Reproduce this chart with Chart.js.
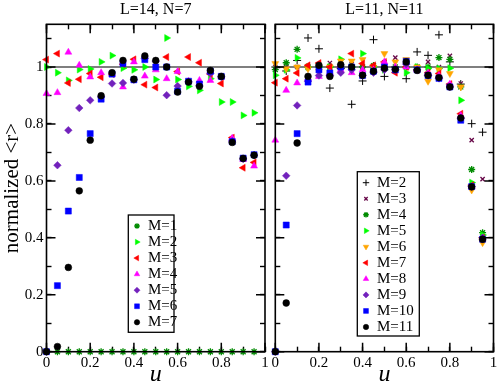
<!DOCTYPE html>
<html>
<head>
<meta charset="utf-8">
<script src="https://cdn.jsdelivr.net/npm/chart.js@4.4.1/dist/chart.umd.min.js"></script>
<style>
  body { margin: 0; background: #fff; }
  canvas { position: absolute; top: 0; }
  #left { left: 0; }
  #right { left: 268px; }
</style>
</head>
<body>
<canvas id="left" width="276" height="387"></canvas>
<canvas id="right" width="230" height="387"></canvas>
<script>
// u values (same grid for both panels)
const uVals = [0, 0.05, 0.1, 0.15, 0.2, 0.25, 0.3, 0.35, 0.4, 0.45,
               0.5, 0.55, 0.6, 0.65, 0.7, 0.75, 0.8, 0.85, 0.9, 0.95];

const majorTicks = [0, 0.2, 0.4, 0.6, 0.8, 1];
const majorLabels = ['0', '0.2', '0.4', '0.6', '0.8', '1'];
const xTickVals = [0, 0.1, 0.2, 0.3, 0.4, 0.5, 0.6, 0.7, 0.8, 0.9, 1];
const yTickVals = [0, 0.1, 0.2, 0.3, 0.4, 0.5, 0.6, 0.7, 0.8, 0.9, 1, 1.1];

const panelTitles = ['L=14, N=7', 'L=11, N=11'];
const xTitle = 'u';
const yTitle = 'normalized <r>';

// left panel : L=14, N=7
const leftM1 = [0, 0, 0, 0, 0, 0, 0, 0, 0, 0, 0, 0, 0, 0, 0, 0, 0, 0, 0, 0];
const leftM2 = [1.0, 0.98, 0.953, 0.991, 0.993, 1.018, 1.04, 0.996, 0.99, 1.0, 0.956, 1.102, 0.956, 0.932, 0.918, 0.959, 0.877, 0.877, 0.83, 0.839];
const leftM3 = [1.026, 1.047, 0.944, 0.957, 0.977, 0.964, 0.975, 1.01, 1.027, 0.938, 0.928, 1.035, 0.984, 1.035, 1.015, 0.975, 0.942, 0.752, 0.646, 0.665];
const leftM4 = [0.907, 0.91, 1.052, 1.006, 0.965, 0.98, 0.975, 0.93, 1.018, 0.968, 0.99, 0.959, 0.984, 0.95, 0.953, 0.953, 0.965, 0.75, 0.675, 0.652];
const leftM5 = [0, 0.655, 0.778, 0.856, 0.883, 0.895, 0.942, 0.944, 0.955, 1.03, 1.02, 0.901, 0.933, 0.948, 0.935, 0.978, 0.965, 0.74, 0.677, 0.69];
const leftM6 = [0, 0.232, 0.494, 0.612, 0.766, 0.887, 0.975, 1.012, 0.955, 1.026, 1.0, 1.0, 0.915, 0.95, 0.94, 0.985, 0.967, 0.738, 0.68, 0.692];
const leftM7 = [0, 0.018, 0.296, 0.565, 0.743, 0.899, 0.98, 1.023, 0.957, 1.039, 1.023, 1.0, 0.912, 0.947, 0.932, 0.988, 0.967, 0.735, 0.679, 0.69];

// right panel : L=11, N=11
const rightM2 = [1.0, 0.986, 1.023, 1.102, 1.064, 0.926, 0.995, 0.869, 0.951, 1.096, 0.967, 1.0, 0.959, 1.053, 1.041, 1.113, 1.018, 0.94, 0.801, 0.771];
const rightM3 = [1.0, 1.0, 1.0, 1.0, 1.005, 1.014, 1.0, 1.01, 1.0, 1.0, 1.016, 1.033, 1.0, 1.0, 1.018, 1.0, 1.039, 0.942, 0.743, 0.606];
const rightM4 = [0.991, 1.015, 1.062, 1.0, 1.0, 1.0, 1.0, 1.0, 1.0, 1.005, 1.0, 1.0, 1.0, 1.0, 1.0, 1.033, 1.027, 0.93, 0.64, 0.418];
const rightM5 = [0.971, 0.99, 1.032, 1.0, 1.0, 1.0, 1.027, 1.0, 1.047, 1.0, 0.99, 0.99, 0.98, 1.0, 0.995, 0.995, 0.996, 0.883, 0.594, 0.41];
const rightM6 = [1.012, 0.994, 1.0, 0.994, 0.985, 1.0, 1.021, 1.021, 1.026, 1.0, 1.047, 1.018, 1.026, 1.0, 0.95, 0.99, 0.977, 0.93, 0.568, 0.383];
const rightM7 = [0.945, 0.959, 0.979, 1.006, 1.014, 1.0, 1.0, 1.047, 1.012, 1.006, 1.018, 0.98, 1.0, 0.99, 0.98, 0.977, 0.94, 0.836, 0.585, 0.4];
const rightM8 = [0.743, 0.918, 0.944, 0.96, 0.967, 0.98, 0.99, 0.98, 0.99, 0.99, 1.018, 1.0, 1.0, 0.99, 0.98, 0.97, 0.94, 0.83, 0.58, 0.4];
const rightM9 = [0, 0.618, 0.865, 0.95, 0.97, 0.97, 0.98, 0.99, 0.97, 0.98, 0.99, 0.99, 1.01, 0.99, 0.97, 0.96, 0.93, 0.82, 0.58, 0.4];
const rightM10 = [0, 0.445, 0.766, 0.947, 0.99, 0.979, 1.0, 1.0, 0.97, 0.985, 1.0, 0.99, 1.02, 0.99, 0.97, 0.96, 0.93, 0.813, 0.58, 0.395];
const rightM11 = [0, 0.171, 0.733, 0.967, 1.006, 0.967, 1.008, 1.0, 0.971, 0.985, 0.996, 0.992, 1.018, 0.988, 0.971, 0.963, 0.93, 0.821, 0.579, 0.395];

Chart.defaults.font.family = '"Liberation Serif", "DejaVu Serif", serif';
Chart.defaults.color = '#000';

// marker looks (xmgrace-ish)
const GREEN4 = 'rgb(0,139,0)', LIME = 'rgb(0,255,0)', RED = 'rgb(255,0,0)',
      MAGENTA = 'rgb(255,0,255)', INDIGO = 'rgb(114,33,188)', BLUE = 'rgb(0,0,255)',
      ORANGE = 'rgb(255,165,0)', MAROON = 'rgb(103,7,72)';
const styles = {
  star:   {shape: 'star', rot: 0, r: 3.5, bw: 1.3},
  right:  {shape: 'triangle', rot: 90, r: 4, bw: 0.5},
  left:   {shape: 'triangle', rot: 270, r: 4, bw: 0.5},
  up:     {shape: 'triangle', rot: 0, r: 4, bw: 0.5},
  down:   {shape: 'triangle', rot: 180, r: 4, bw: 0.5},
  diam:   {shape: 'rectRot', rot: 0, r: 3.8, bw: 0.5},
  square: {shape: 'rect', rot: 0, r: 4.3, bw: 0.5},
  circle: {shape: 'circle', rot: 0, r: 3.4, bw: 0.5},
  plus:   {shape: 'cross', rot: 0, r: 4, bw: 1},
  times:  {shape: 'crossRot', rot: 0, r: 3, bw: 1.3}
};

function series(label, vals, st, color, order) {
  return {
    label: label,
    data: uVals.map((u, i) => ({x: u, y: vals[i]})),
    pointStyle: st.shape,
    rotation: st.rot,
    pointRadius: st.r,
    pointHoverRadius: st.r,
    borderWidth: st.bw,
    backgroundColor: color,
    borderColor: color,
    order: order,
    clip: false
  };
}

function refLine() {
  return {type: 'line', showLine: true, data: [{x: 0, y: 1}, {x: 1, y: 1}],
          borderColor: '#000', borderWidth: 1.2, pointRadius: 0, order: 100};
}

function tickLabel(value) {
  for (let i = 0; i < majorTicks.length; i++) {
    if (Math.abs(value - majorTicks[i]) < 1e-6) return majorLabels[i];
  }
  return '';
}

function isMajor(v) {
  return Math.abs(v * 5 - Math.round(v * 5)) < 1e-6;
}

// short inward ticks, drawn by the scales themselves
const inTicks = {display: true, drawOnChartArea: false, drawTicks: true,
                 tickLength: -5, tickColor: '#000', tickWidth: 1.4};

// frame, longer major ticks, and the boxed legend
const decoPlugin = {
  id: 'panelDeco',
  afterDraw(chart, args, opts) {
    const ctx = chart.ctx;
    const a = chart.chartArea;
    const xs = chart.scales.x, ys = chart.scales.y;
    ctx.save();
    ctx.strokeStyle = 'rgb(0,0,0)';
    ctx.lineWidth = 1.5;
    for (const v of xTickVals) {
      if (!isMajor(v)) continue;
      const px = xs.getPixelForValue(v);
      ctx.beginPath();
      ctx.moveTo(px, a.bottom); ctx.lineTo(px, a.bottom - 9);
      ctx.moveTo(px, a.top); ctx.lineTo(px, a.top + 9);
      ctx.stroke();
    }
    for (const v of yTickVals) {
      if (!isMajor(v)) continue;
      const py = ys.getPixelForValue(v);
      ctx.beginPath();
      ctx.moveTo(a.left, py); ctx.lineTo(a.left + 9, py);
      ctx.moveTo(a.right, py); ctx.lineTo(a.right - 9, py);
      ctx.stroke();
    }
    ctx.lineWidth = 1.6;
    ctx.strokeRect(a.left, a.top, a.right - a.left, a.bottom - a.top);

    // legend
    const lg = opts.legend;
    ctx.fillStyle = '#fff';
    ctx.fillRect(lg.x, lg.y, lg.w, lg.h);
    ctx.strokeStyle = '#000';
    ctx.lineWidth = 1.3;
    ctx.strokeRect(lg.x, lg.y, lg.w, lg.h);
    const items = chart.data.datasets.filter(d => d.label);
    items.forEach((d, i) => {
      const y = lg.row0 + i * lg.gap;
      ctx.fillStyle = d.backgroundColor;
      ctx.strokeStyle = d.borderColor;
      ctx.lineWidth = d.borderWidth;
      Chart.helpers.drawPoint(ctx, {pointStyle: d.pointStyle, rotation: d.rotation,
        radius: d.pointRadius * 0.8, borderWidth: d.borderWidth}, lg.symX, y);
      ctx.fillStyle = '#000';
      ctx.font = '15px "Liberation Serif", serif';
      ctx.textAlign = 'left';
      ctx.textBaseline = 'middle';
      ctx.fillText(d.label, lg.textX, y);
    });
    ctx.restore();
  }
};

function makeChart(id, title, datasets, o) {
  return new Chart(document.getElementById(id), {
    type: 'scatter',
    data: {datasets: datasets},
    options: {
      responsive: false,
      animation: false,
      events: [],
      layout: {padding: {left: 0, right: o.padRight, top: 0, bottom: 0}, autoPadding: false},
      plugins: {legend: {display: false}, tooltip: {enabled: false}, panelDeco: {legend: o.legend}},
      scales: {
        x: {
          type: 'linear', position: 'bottom', min: 0, max: 1,
          grid: inTicks, border: {display: false},
          ticks: {stepSize: 0.1, autoSkip: false, maxRotation: 0, padding: 7,
                  callback: tickLabel, font: {size: 15}, color: '#000'},
          title: {display: true, text: xTitle, padding: 0, color: '#000',
                  font: {size: 24, style: 'italic', lineHeight: 1}},
          afterFit: s => { s.height = 35.3; s.paddingLeft = 0; s.paddingRight = 0; }
        },
        x2: {
          type: 'linear', position: 'top', min: 0, max: 1,
          grid: inTicks, border: {display: false},
          ticks: {display: false, stepSize: 0.1, autoSkip: false},
          title: {display: true, text: title, padding: 0, color: '#000', font: {size: 16}},
          afterFit: s => { s.height = 24.3; s.paddingLeft = 0; s.paddingRight = 0; }
        },
        y: {
          type: 'linear', position: 'left', min: 0, max: 1.15,
          grid: inTicks, border: {display: false},
          ticks: {display: o.showY, stepSize: 0.1, includeBounds: false, autoSkip: false,
                  padding: 8, callback: tickLabel, font: {size: 15}, color: '#000'},
          title: {display: o.showY, text: yTitle, padding: 0, color: '#000', font: {size: 21}},
          afterFit: s => { s.width = o.yWidth; s.paddingTop = 0; s.paddingBottom = 0; }
        },
        y2: {
          type: 'linear', position: 'right', min: 0, max: 1.15,
          grid: inTicks, border: {display: false},
          ticks: {display: false, stepSize: 0.1, includeBounds: false, autoSkip: false},
          afterFit: s => { s.width = 0; s.paddingTop = 0; s.paddingBottom = 0; }
        }
      }
    },
    plugins: [decoPlugin]
  });
}

const leftSets = [
  series('M=1', leftM1, styles.star, GREEN4, -1),
  series('M=2', leftM2, styles.right, LIME, -2),
  series('M=3', leftM3, styles.left, RED, -3),
  series('M=4', leftM4, styles.up, MAGENTA, -4),
  series('M=5', leftM5, styles.diam, INDIGO, -5),
  series('M=6', leftM6, styles.square, BLUE, -6),
  series('M=7', leftM7, styles.circle, '#000', -7),
  refLine()
];

const rightSets = [
  series('M=2', rightM2, styles.plus, '#000', -2),
  series('M=3', rightM3, styles.times, MAROON, -3),
  series('M=4', rightM4, styles.star, GREEN4, -4),
  series('M=5', rightM5, styles.right, LIME, -5),
  series('M=6', rightM6, styles.down, ORANGE, -6),
  series('M=7', rightM7, styles.left, RED, -7),
  series('M=8', rightM8, styles.up, MAGENTA, -8),
  series('M=9', rightM9, styles.diam, INDIGO, -9),
  series('M=10', rightM10, styles.square, BLUE, -10),
  series('M=11', rightM11, styles.circle, '#000', -11),
  refLine()
];

makeChart('left', panelTitles[0], leftSets, {
  padRight: 11, yWidth: 46.5, showY: true,
  legend: {x: 128.3, y: 215, w: 45.7, h: 117.3, row0: 226, gap: 16.05, symX: 137, textX: 148}
});

makeChart('right', panelTitles[1], rightSets, {
  padRight: 4.5, yWidth: 7.3, showY: false,
  legend: {x: 89.3, y: 171.7, w: 62, h: 164.3, row0: 182.7, gap: 16.03, symX: 98, textX: 109}
});
</script>
</body>
</html>
